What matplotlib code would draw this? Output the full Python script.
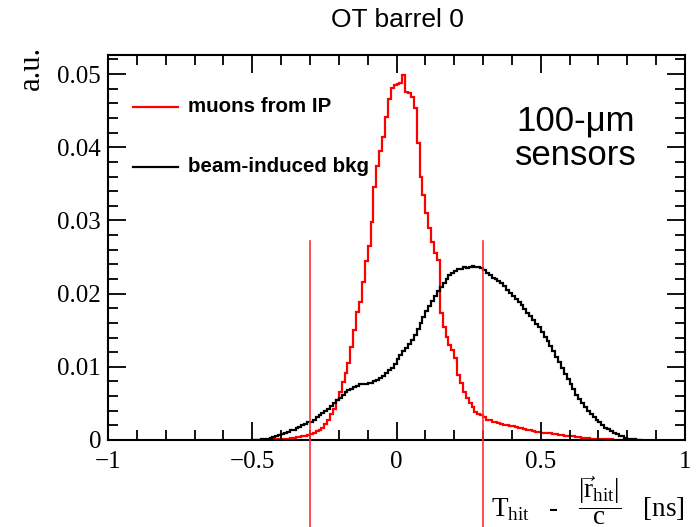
import numpy as np
import matplotlib
matplotlib.use("Agg")
import matplotlib.pyplot as plt
from matplotlib.ticker import MultipleLocator

# ---- data (bin width 0.01 ns, bins from -0.50 to 0.85) ----
bin_lo = -0.50
bin_hi = 0.85
bkg = [
    0.0000, 0.0000, 0.0000, 0.0001, 0.0001, 0.0002, 0.0003, 0.0004, 0.0005, 0.0007,
    0.0008, 0.0010, 0.0011, 0.0013, 0.0014, 0.0016, 0.0018, 0.0020, 0.0022, 0.0024,
    0.0025, 0.0028, 0.0031, 0.0034, 0.0037, 0.0040, 0.0043, 0.0046, 0.0050, 0.0054,
    0.0058, 0.0062, 0.0065, 0.0068, 0.0070, 0.0072, 0.0074, 0.0076, 0.0077, 0.0077,
    0.0078, 0.0078, 0.0080, 0.0082, 0.0085, 0.0088, 0.0091, 0.0095, 0.0099, 0.0104,
    0.0110, 0.0116, 0.0121, 0.0126, 0.0131, 0.0137, 0.0144, 0.0152, 0.0160, 0.0168,
    0.0176, 0.0183, 0.0190, 0.0197, 0.0203, 0.0209, 0.0215, 0.0220, 0.0225, 0.0228,
    0.0231, 0.0233, 0.0234, 0.0236, 0.0235, 0.0237, 0.0238, 0.0236, 0.0237, 0.0235,
    0.0232, 0.0228, 0.0225, 0.0222, 0.0220, 0.0217, 0.0214, 0.0210, 0.0205, 0.0201,
    0.0197, 0.0193, 0.0189, 0.0184, 0.0179, 0.0174, 0.0169, 0.0164, 0.0159, 0.0154,
    0.0148, 0.0141, 0.0135, 0.0128, 0.0121, 0.0113, 0.0106, 0.0098, 0.0090, 0.0083,
    0.0076, 0.0069, 0.0062, 0.0056, 0.0050, 0.0045, 0.0040, 0.0036, 0.0031, 0.0027,
    0.0024, 0.0020, 0.0017, 0.0015, 0.0012, 0.0010, 0.0008, 0.0006, 0.0005, 0.0003,
    0.0002, 0.0001, 0.0001, 0.0000, 0.0000,
]
muons = [
    0.0000, 0.0000, 0.0000, 0.0000, 0.0000, 0.0000, 0.0001, 0.0001, 0.0001, 0.0001,
    0.0002, 0.0002, 0.0002, 0.0003, 0.0003, 0.0004, 0.0004, 0.0005, 0.0006, 0.0007,
    0.0008, 0.0010, 0.0012, 0.0014, 0.0017, 0.0022, 0.0028, 0.0036, 0.0043, 0.0055,
    0.0066, 0.0079, 0.0092, 0.0105, 0.0127, 0.0150, 0.0175, 0.0189, 0.0216, 0.0245,
    0.0265, 0.0298, 0.0346, 0.0375, 0.0395, 0.0414, 0.0441, 0.0466, 0.0481, 0.0485,
    0.0486, 0.0488, 0.0499, 0.0475, 0.0474, 0.0469, 0.0453, 0.0406, 0.0360, 0.0335,
    0.0310, 0.0290, 0.0270, 0.0255, 0.0246, 0.0173, 0.0155, 0.0141, 0.0130, 0.0123,
    0.0112, 0.0089, 0.0078, 0.0066, 0.0058, 0.0050, 0.0045, 0.0038, 0.0036, 0.0034,
    0.0031, 0.0028, 0.0027, 0.0025, 0.0024, 0.0023, 0.0022, 0.0021, 0.0020, 0.0019,
    0.0019, 0.0018, 0.0017, 0.0016, 0.0015, 0.0014, 0.0013, 0.0012, 0.0011, 0.0011,
    0.0010, 0.0010, 0.0009, 0.0009, 0.0008, 0.0008, 0.0007, 0.0007, 0.0006, 0.0006,
    0.0005, 0.0005, 0.0004, 0.0004, 0.0003, 0.0003, 0.0003, 0.0002, 0.0002, 0.0002,
    0.0001, 0.0001, 0.0001, 0.0001, 0.0001, 0.0000, 0.0000, 0.0000, 0.0000, 0.0000,
    0.0000, 0.0000, 0.0000, 0.0000, 0.0000,
]
cuts = [-0.3, 0.3]
cut_top = 0.0272
labels = ["muons from IP", "beam-induced bkg"]
title = "OT barrel 0"
note = "100-\u03bcm\nsensors"

plt.rcParams["mathtext.fontset"] = "custom"
plt.rcParams["mathtext.rm"] = "Liberation Serif"
plt.rcParams["mathtext.it"] = "Liberation Serif:italic"
plt.rcParams["mathtext.bf"] = "Liberation Serif:bold"

fig = plt.figure(figsize=(6.97, 5.27), dpi=100)
ax = fig.add_axes([108/697, 1-440/527, (685-108)/697, (440-55)/527])

edges = np.linspace(bin_lo, bin_hi, len(bkg) + 1)
ax.stairs(muons, edges, color="#ff0000", lw=1.6)
ax.stairs(bkg, edges, color="black", lw=1.6)

ax.set_xlim(-1, 1)
ax.set_ylim(0, 0.0526)

for c in cuts:
    ax.plot([c, c], [cut_top, -0.013], color="#ff3030", lw=1.2, clip_on=False, zorder=5)

ax.xaxis.set_major_locator(MultipleLocator(0.5))
ax.xaxis.set_minor_locator(MultipleLocator(0.1))
ax.yaxis.set_major_locator(MultipleLocator(0.01))
ax.yaxis.set_minor_locator(MultipleLocator(0.002))
ax.tick_params(which="both", direction="in", top=True, right=True, width=1.3)
ax.tick_params(which="major", length=13)
ax.tick_params(which="minor", length=7)
ax.tick_params(axis="x", pad=8)
ax.tick_params(axis="y", pad=5)
for sp in ax.spines.values():
    sp.set_linewidth(1.5)

def fmt_x(v):
    if abs(v) < 1e-9:
        return "0"
    s = ("%g" % v)
    return s.replace("-", "\u2212")

xt = [-1, -0.5, 0, 0.5, 1]
ax.set_xticks(xt)
ax.set_xticklabels([fmt_x(v) for v in xt], family="Liberation Serif", fontsize=18)
yt = [0, 0.01, 0.02, 0.03, 0.04, 0.05]
ax.set_yticks(yt)
ax.set_yticklabels(["0" if v == 0 else "%.2f" % v for v in yt], family="Liberation Serif", fontsize=18)

# legend (manual, ROOT-like)
lx0, lx1 = (133-108)/577, (178-108)/577
for lab, col, yy in [(labels[0], "#ff0000", 107), (labels[1], "black", 167)]:
    yf = (440-yy)/385
    ax.plot([lx0, lx1], [yf, yf], transform=ax.transAxes, color=col, lw=1.6)
    ax.text((188-108)/577, yf, lab, transform=ax.transAxes, ha="left", va="center",
            family="Liberation Sans", weight="bold", fontsize=14.8)

ax.text((576-108)/577, (440-138)/385, note, transform=ax.transAxes, ha="center", va="center",
        family="Liberation Sans", fontsize=25, linespacing=1.05)

fig.text(397/697, 1-20/527, title, ha="center", va="center", family="Liberation Sans", fontsize=19)
fig.text(31/697, 1-46/527, "a.u.", ha="center", va="top", rotation=90,
         family="Liberation Serif", fontsize=22)
fig.text(685/697, 1-501/527,
         r"$\mathrm{T_{hit}}$   -   $\mathrm{\dfrac{|\vec{r}_{hit}|}{c}}$   [ns]",
         ha="right", va="center", family="Liberation Serif", fontsize=19.5)

fig.savefig("out.png", dpi=100)
